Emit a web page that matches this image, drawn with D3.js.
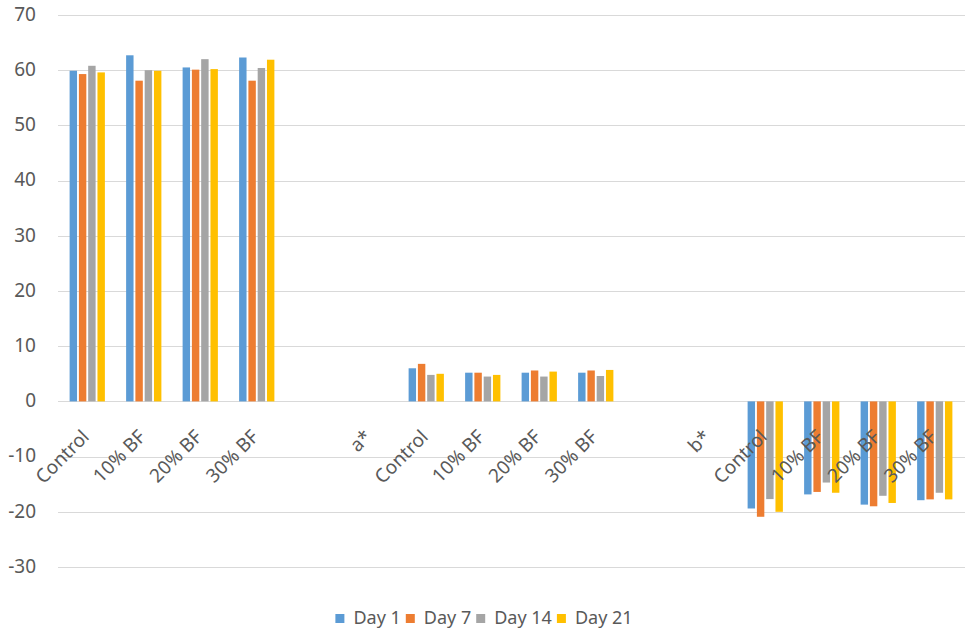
<!DOCTYPE html>
<html><head><meta charset="utf-8">
<script src="https://cdn.jsdelivr.net/npm/d3@7"></script>
<style>body{margin:0;background:#fff}</style></head>
<body><svg id="c" width="968" height="632"></svg>
<script>
const categories = ["Control","10% BF","20% BF","30% BF","","a*","Control","10% BF","20% BF","30% BF","","b*","Control","10% BF","20% BF","30% BF"];
const seriesNames = ["Day 1","Day 7","Day 14","Day 21"];
const day1  = [59.9,62.7,60.5,62.3,null,null,6.0,5.2,5.2,5.2,null,null,-19.4,-16.85,-18.7,-17.9];
const day7  = [59.3,58.1,60.1,58.1,null,null,6.8,5.2,5.6,5.6,null,null,-20.9,-16.4,-19.0,-17.75];
const day14 = [60.8,60.0,62.0,60.4,null,null,4.8,4.5,4.5,4.6,null,null,-17.7,-14.7,-17.1,-16.55];
const day21 = [59.6,59.9,60.2,61.9,null,null,5.0,4.8,5.4,5.7,null,null,-20.0,-16.55,-18.4,-17.75];
const yTicks = [-30,-20,-10,0,10,20,30,40,50,60,70];
const colors = ["#5B9BD5","#ED7D31","#A5A5A5","#FFC000"];
const series = [day1, day7, day14, day21];

const svg = d3.select("#c");
const font = "'Noto Sans', sans-serif";
const textColor = "#595959";

const idx = d3.range(categories.length);
const x = d3.scaleBand().domain(idx).range([59, 963]).paddingInner(0.31).paddingOuter(0.155);
const xs = d3.scaleBand().domain(d3.range(series.length)).range([0, x.bandwidth()]).padding(0.2);
const y = d3.scaleLinear().domain([-30, 70]).range([567, 15]);

// gridlines
svg.append("g").selectAll("line").data(yTicks).join("line")
  .attr("x1", 58).attr("x2", 965)
  .attr("y1", d => Math.round(y(d)) + 0.5).attr("y2", d => Math.round(y(d)) + 0.5)
  .attr("stroke", "#d9d9d9").attr("stroke-width", 1);

// y labels
svg.append("g").selectAll("text").data(yTicks).join("text")
  .attr("x", 36).attr("y", d => y(d) - 1).attr("dy", "0.36em")
  .attr("text-anchor", "end").attr("font-family", font).attr("font-size", 19)
  .attr("fill", textColor).text(d => String(d));

// bars
series.forEach((vals, si) => {
  svg.append("g").selectAll("rect").data(idx.filter(i => vals[i] != null)).join("rect")
    .attr("x", i => x(i) + xs(si))
    .attr("width", xs.bandwidth())
    .attr("y", i => y(Math.max(0, vals[i])))
    .attr("height", i => Math.abs(y(vals[i]) - y(0)))
    .attr("fill", colors[si]);
});

// category labels
svg.append("g").selectAll("text").data(idx.filter(i => categories[i] !== "")).join("text")
  .attr("transform", i => `translate(${x(i) + x.bandwidth() / 2 + 3},438) rotate(-45)`)
  .attr("text-anchor", "end")
  .attr("font-family", font).attr("font-size", 19).attr("fill", textColor)
  .text(i => categories[i]);

// legend
const lg = svg.append("g");
let cx = 0;
const items = [];
seriesNames.forEach((n, i) => {
  const g = lg.append("g");
  g.append("rect").attr("x", 0).attr("y", -10).attr("width", 9).attr("height", 9).attr("fill", colors[i]);
  const t = g.append("text").attr("x", 18).attr("y", 0).attr("font-family", font).attr("font-size", 18)
    .attr("fill", textColor).text(n);
  const w = 18 + t.node().getComputedTextLength();
  items.push({g, off: cx});
  cx += w + 5;
});
const total = cx - 5;
const start = 484 - total / 2;
items.forEach(it => it.g.attr("transform", `translate(${start + it.off},624)`));
</script></body></html>
